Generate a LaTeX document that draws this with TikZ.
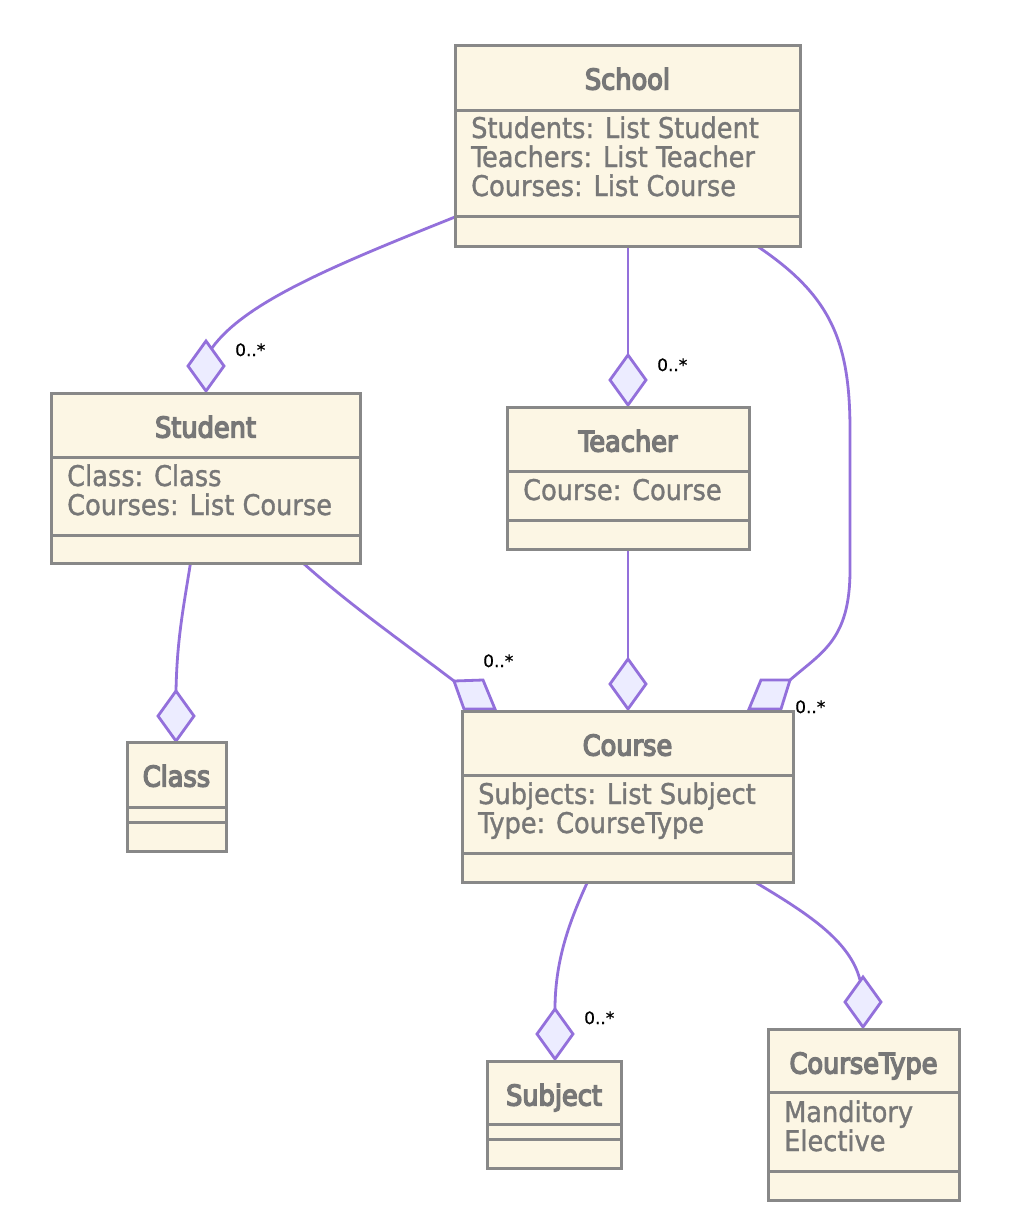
\documentclass[tikz,border=0pt]{standalone}
\usepackage{fontspec}
\setmainfont{DejaVu Sans Condensed}[FakeBold=1.2]
\newfontfamily\ttlfont{DejaVu Sans Condensed}[BoldFont={DejaVu Sans Condensed},BoldFeatures={FakeBold=5}]
\newfontfamily\lblfont{DejaVu Sans}[FakeBold=0.8]
\definecolor{boxfill}{HTML}{FCF6E4}
\definecolor{boxdraw}{HTML}{888888}
\definecolor{txtgray}{HTML}{777777}
\definecolor{edgecol}{HTML}{9370DB}
\definecolor{diafill}{HTML}{ECECFF}
\pgfdeclarelayer{bottom}
\pgfdeclarelayer{background}
\pgfsetlayers{bottom,background,main}
\tikzset{
  umlbox/.style={draw=boxdraw, fill=boxfill, line width=3pt, inner sep=0pt, outer sep=0pt, anchor=north west},
  divline/.style={draw=boxdraw, line width=3pt},
  ttl/.style={text=txtgray, inner sep=0pt, anchor=base, font=\ttlfont\bfseries\fontsize{28.5}{29}\selectfont},
  attr/.style={text=txtgray, inner sep=0pt, anchor=base west, font=\fontsize{28.5}{29}\selectfont},
  lbl/.style={text=black, inner sep=0pt, anchor=base west, font=\lblfont\fontsize{17}{18}\selectfont},
  edge/.style={draw=edgecol, line width=2.8pt},
  dia/.style={draw=edgecol, fill=diafill, line width=2.8pt, line join=miter},
  pics/aggv/.style={code={\draw[dia] (0,0) -- (18,25) -- (0,50) -- (-18,25) -- cycle;}}
}
\newcommand\umlbox[7]{%
  \node[umlbox, minimum width={(#4-#2)*1pt}, minimum height={(#5-#3)*1pt}] (#1) at (#2,#3) {};
  \draw[divline] (#2,#6) -- (#4,#6);
  \draw[divline] (#2,#7) -- (#4,#7);
}
\begin{document}
\begin{tikzpicture}[x=1pt,y=-1pt]
\begin{pgfonlayer}{bottom}
\fill[white] (0,0) rectangle (1010,1232);
\end{pgfonlayer}
\useasboundingbox (0,0) rectangle (1010,1232);

% boxes
\umlbox{school}{455}{45}{800}{246}{110}{216}
\umlbox{student}{51}{393}{360}{563}{457}{535}
\umlbox{teacher}{507}{407}{749}{549}{471}{520}
\umlbox{class}{127}{742}{226}{851}{807}{822}
\umlbox{course}{462}{711}{793}{882}{775}{853}
\umlbox{subject}{487}{1061}{621}{1168}{1124}{1139}
\umlbox{ctype}{768}{1029}{959}{1200}{1092}{1171}

% titles
\node[ttl] (school-t) at (627.5,89.5) {School};
\node[ttl] (student-t) at (205.5,437.5) {Student};
\node[ttl] (teacher-t) at (628,451.5) {Teacher};
\node[ttl] (class-t) at (176.5,786.5) {Class};
\node[ttl] (course-t) at (627.5,755.5) {Course};
\node[ttl] (subject-t) at (554,1105.5) {Subject};
\node[ttl] (ctype-t) at (863.5,1073.5) {CourseType};

% attributes
\node[attr] (school-a1) at (471,138) {Students: List Student};
\node[attr] (school-a2) at (471,167) {Teachers: List Teacher};
\node[attr] (school-a3) at (471,196) {Courses: List Course};
\node[attr] (student-a1) at (67,486) {Class: Class};
\node[attr] (student-a2) at (67,515) {Courses: List Course};
\node[attr] (teacher-a1) at (523,500) {Course: Course};
\node[attr] (course-a1) at (478,804) {Subjects: List Subject};
\node[attr] (course-a2) at (478,833) {Type: CourseType};
\node[attr] (ctype-a1) at (784,1122) {Manditory};
\node[attr] (ctype-a2) at (784,1151) {Elective};

% diamond anchor coordinates
\coordinate (dStu) at (206,341);
\coordinate (dStuIn) at (212,348);
\coordinate (dTea) at (628,355);
\coordinate (dCouT) at (628,659);
\coordinate (dCla) at (176,691);
\coordinate (dSub) at (555,1009);
\coordinate (dTyp) at (863,977);
\coordinate (dTypIn) at (860,980);
\coordinate (dCouL) at (454,681);
\coordinate (dCouR) at (790,680);

\begin{pgfonlayer}{background}
% connectors
\draw[edge] ([yshift=29pt]school.south west) .. controls (335,265) and (245,302) .. (dStuIn);
\draw[edge] (school.south -| dTea) -- (dTea);
\draw[edge] ([xshift=-43pt]school.south east) .. controls (830,295) and (850,340) .. (850,430)
   -- (850,570) .. controls (850,640) and (822,652) .. (dCouR);
\draw[edge] ([xshift=-15pt]student.south) .. controls (183,610) and (177,640) .. (dCla);
\draw[edge] ([xshift=-57pt]student.south east) .. controls (350,605) and (400,640) .. (dCouL);
\draw[edge] (teacher.south) -- (dCouT);
\draw[edge] ([xshift=-40pt]course.south) .. controls (570,920) and (555,960) .. (dSub);
\draw[edge] ([xshift=-38pt]course.south east) .. controls (805,912) and (850,940) .. (dTypIn);

% diamonds
\pic at (dStu) {aggv};
\pic at (dTea) {aggv};
\pic at (dCouT) {aggv};
\pic at (dCla) {aggv};
\pic at (dSub) {aggv};
\pic at (dTyp) {aggv};
\draw[dia] (dCouL) -- (483,680) -- (495,709) -- (464,709) -- cycle;
\draw[dia] (dCouR) -- (761,680) -- (749,709) -- (781,709) -- cycle;
\end{pgfonlayer}

% multiplicity labels
\node[lbl] (m1) at (235,356) {0..*};
\node[lbl] (m2) at (657,371) {0..*};
\node[lbl] (m3) at (483,667) {0..*};
\node[lbl] (m4) at (795,713) {0..*};
\node[lbl] (m5) at (584,1024) {0..*};
\end{tikzpicture}
\end{document}
